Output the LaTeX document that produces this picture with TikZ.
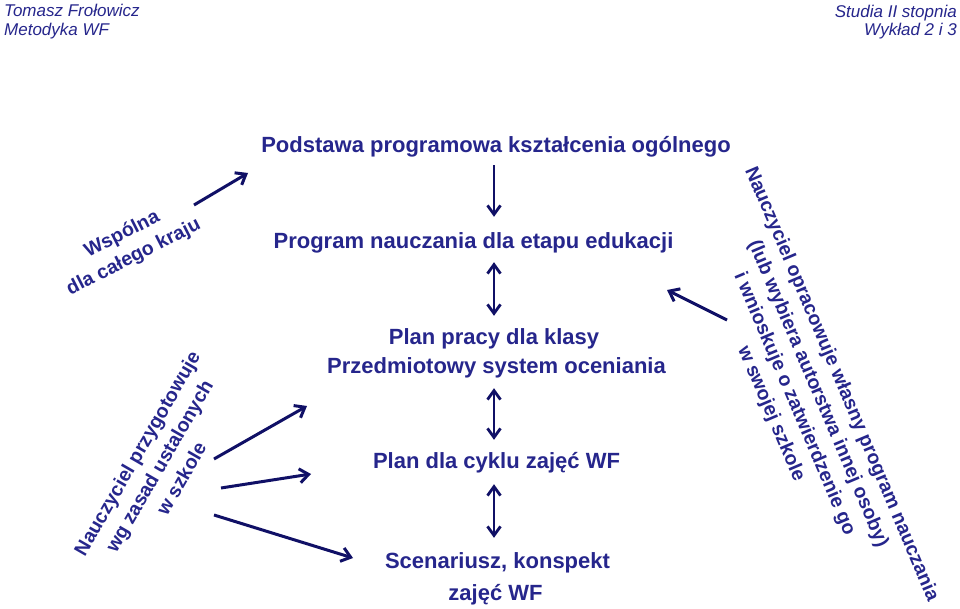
\documentclass[tikz,border=0pt]{standalone}
\usepackage{fontspec}
\setmainfont{Liberation Sans}
\usetikzlibrary{arrows.meta}
\definecolor{txt}{HTML}{26268C}
\definecolor{arr}{HTML}{101066}
\begin{document}
\begin{tikzpicture}[x=1pt,y=-1pt,
  main/.style={font=\bfseries\fontsize{22}{26}\selectfont, text=txt, inner sep=0pt, text height=16pt, text depth=5pt, anchor=base},
  rot/.style={font=\bfseries\fontsize{19.5}{25.5}\selectfont, text=txt, align=center, inner sep=0pt},
  hdr/.style={font=\itshape\fontsize{17}{20}\selectfont, text=txt, inner sep=0pt},
  arrow/.style={draw=arr, line width=3pt, -{Straight Barb[length=9pt,width=14pt]}},
  dbl/.style={draw=arr, line width=2.8pt, {Straight Barb[length=9pt,width=13pt]}-{Straight Barb[length=9pt,width=13pt]}},
  sgl/.style={draw=arr, line width=2.8pt, -{Straight Barb[length=9pt,width=13pt]}}]
\fill[white] (0,0) rectangle (960,609);
\useasboundingbox (0,0) rectangle (960,609);
% header
\node[hdr, anchor=base west] (h1) at (4,17) {Tomasz Frołowicz};
\node[hdr, anchor=base west] (h2) at (4,36) {Metodyka WF};
\node[hdr, anchor=base east] (h3) at (957,18) {Studia II stopnia};
\node[hdr, anchor=base east] (h4) at (957,36) {Wykład 2 i 3};
% main column
\node[main] (pod) at (496,153) {Podstawa programowa kształcenia ogólnego};
\node[main] (prog) at (473.5,249) {Program nauczania dla etapu edukacji};
\node[main] (plan) at (494,344) {Plan pracy dla klasy};
\node[main] (pso) at (496.5,373) {Przedmiotowy system oceniania};
\node[main] (cykl) at (496.5,468) {Plan dla cyklu zajęć WF};
\node[main] (scen) at (497.5,568) {Scenariusz, konspekt};
\node[main] (zaj) at (495.5,600) {zajęć WF};
\coordinate (ax) at (494,0);
\draw[sgl, shorten <=7pt, shorten >=16pt] (pod.south -| ax) -- (prog.north -| ax);
\draw[dbl, shorten <=8pt, shorten >=12pt] (prog.south -| ax) -- (plan.north -| ax);
\draw[dbl, shorten <=10pt, shorten >=12pt] (pso.south -| ax) -- (cykl.north -| ax);
\draw[dbl, shorten <=11pt, shorten >=14pt] (cykl.south -| ax) -- (scen.north -| ax);
% rotated texts
\node[rot, rotate=27] (wsp) at (128,246) {Wspólna\\dla całego kraju};
\node[rot, rotate=60] (nprz) at (159,466) {Nauczyciel przygotowuje\\wg zasad ustalonych\\w szkole};
\node[rot, rotate=-67] (nopr) at (806,399) {Nauczyciel opracowuje własny program nauczania\\(lub wybiera autorstwa innej osoby)\\i wnioskuje o zatwierdzenie go\\w swojej szkole};
% diagonal arrows
\coordinate (a1s) at (194,205);
\coordinate (a1e) at (248,173);
\draw[arrow] (a1s) -- (a1e);
\coordinate (a2s) at (727,320);
\coordinate (a2e) at (667,290);
\draw[arrow] (a2s) -- (a2e);
\coordinate (b1s) at (214,459);
\coordinate (b1e) at (307,406);
\draw[arrow] (b1s) -- (b1e);
\coordinate (b2s) at (221,488);
\coordinate (b2e) at (311,474);
\draw[arrow] (b2s) -- (b2e);
\coordinate (b3s) at (214,515);
\coordinate (b3e) at (353,558);
\draw[arrow] (b3s) -- (b3e);
\end{tikzpicture}
\end{document}
